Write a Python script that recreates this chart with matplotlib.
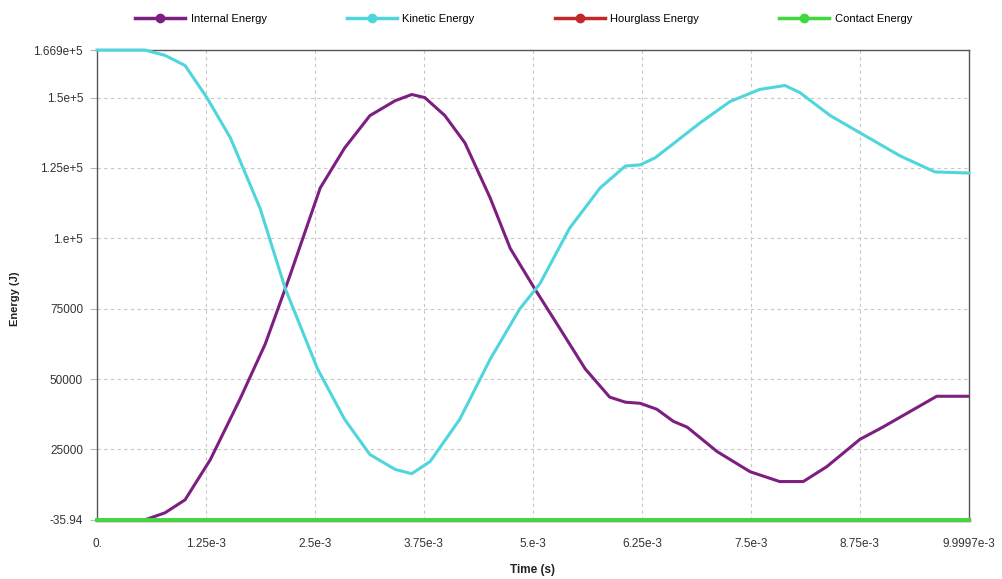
import matplotlib.pyplot as plt

plt.rcParams['font.family'] = ['Liberation Sans', 'DejaVu Sans']

# time in ms, energy in J
kin_t = [0, 0.55, 0.78, 1.01, 1.26, 1.53, 1.87, 2.16, 2.53, 2.84, 3.13, 3.42, 3.61, 3.82,
         4.16, 4.51, 4.85, 5.08, 5.42, 5.77, 6.06, 6.23, 6.40, 6.58, 6.92, 7.26, 7.60,
         7.89, 8.06, 8.41, 8.75, 9.21, 9.61, 9.9997]
kin_e = [166900, 166900, 165000, 161400, 150000, 135700, 110700, 82100, 53600, 35700,
         23200, 17900, 16400, 20700, 35700, 57100, 75000, 83900, 103600, 117900, 125700,
         126100, 128600, 132900, 141100, 148600, 152900, 154300, 151800, 143600, 137500,
         129300, 123600, 123200]

int_t = [0.55, 0.78, 1.01, 1.30, 1.64, 1.93, 2.21, 2.56, 2.84, 3.13, 3.42, 3.61, 3.76,
         3.99, 4.22, 4.51, 4.74, 5.02, 5.31, 5.60, 5.88, 6.06, 6.23, 6.42, 6.61, 6.77,
         7.11, 7.49, 7.83, 8.10, 8.37, 8.75, 9.01, 9.63, 9.9997]
int_e = [0, 2500, 7100, 21400, 42900, 62500, 86500, 117900, 132100, 143600, 148900,
         151100, 150000, 143600, 133900, 114300, 96400, 82100, 67900, 53600, 43600, 41800,
         41400, 39300, 35000, 32900, 24300, 17100, 13600, 13600, 18900, 28600, 32900,
         43900, 43900]

flat_t = [0, 9.9997]
hourglass_e = [-35.94, -35.94]
contact_e = [-35.94, -35.94]

yticks = [-35.94, 25000, 50000, 75000, 1e5, 1.25e5, 1.5e5, 1.669e5]
ylabels = ['-35.94', '25000', '50000', '75000', '1.e+5', '1.25e+5', '1.5e+5', '1.669e+5']
xticks = [0, 1.25, 2.5, 3.75, 5, 6.25, 7.5, 8.75, 9.9997]
xlabels = ['0.', '1.25e-3', '2.5e-3', '3.75e-3', '5.e-3', '6.25e-3', '7.5e-3', '8.75e-3', '9.9997e-3']

colors = ['#7d1f80', '#4fd6dc', '#c0282b', '#3fd83f']
names = ['Internal Energy', 'Kinetic Energy', 'Hourglass Energy', 'Contact Energy']

fig = plt.figure(figsize=(10.03, 5.79), dpi=100)
ax = fig.add_axes([0.0967, 0.102, 0.8693, 0.8116])

ms = lambda v: [x * 1e-3 for x in v]
ax.plot(ms(int_t), int_e, color=colors[0], lw=2.2, zorder=3, solid_joinstyle='round')
ax.plot(ms(kin_t), kin_e, color=colors[1], lw=2.2, zorder=3, clip_on=False,
        solid_joinstyle='round')
ax.plot(ms(flat_t), hourglass_e, color=colors[2], lw=2.5, zorder=5, clip_on=False)
ax.plot(ms(flat_t), contact_e, color=colors[3], lw=2.8, zorder=6, clip_on=False)

ax.set_xlim(0, 9.9997e-3)
ax.set_ylim(-35.94, 166900)
ax.set_yticks(yticks)
ax.set_yticklabels(ylabels)
ax.set_xticks(ms(xticks))
ax.set_xticklabels(xlabels)
ax.tick_params(axis='both', labelsize=8.5, colors='#bbbbbb', labelcolor='#333333', length=5)
ax.tick_params(axis='y', pad=5)
ax.tick_params(axis='x', length=0, pad=13)
ax.grid(True, linestyle=(0, (3, 3)), color='#c8c8c8', lw=0.8)
for s in ax.spines.values():
    s.set_color('#555555')
    s.set_linewidth(1)

ax.set_xlabel('Time (s)', fontsize=8.5, fontweight='bold', color='#222222', labelpad=10)
ax.set_ylabel('Energy (J)', fontsize=8, fontweight='bold', color='#222222')
ax.yaxis.set_label_coords(-0.088, 0.47)

handles = [plt.Line2D([], [], color=c, lw=2.5, marker='o', markersize=6) for c in colors]
fig.legend(handles, names, loc='center', bbox_to_anchor=(0.522, 0.968), ncol=4,
           frameon=False, fontsize=8, handlelength=4.5, columnspacing=7.2,
           handletextpad=0.5)

fig.savefig('out.png', dpi=100)
